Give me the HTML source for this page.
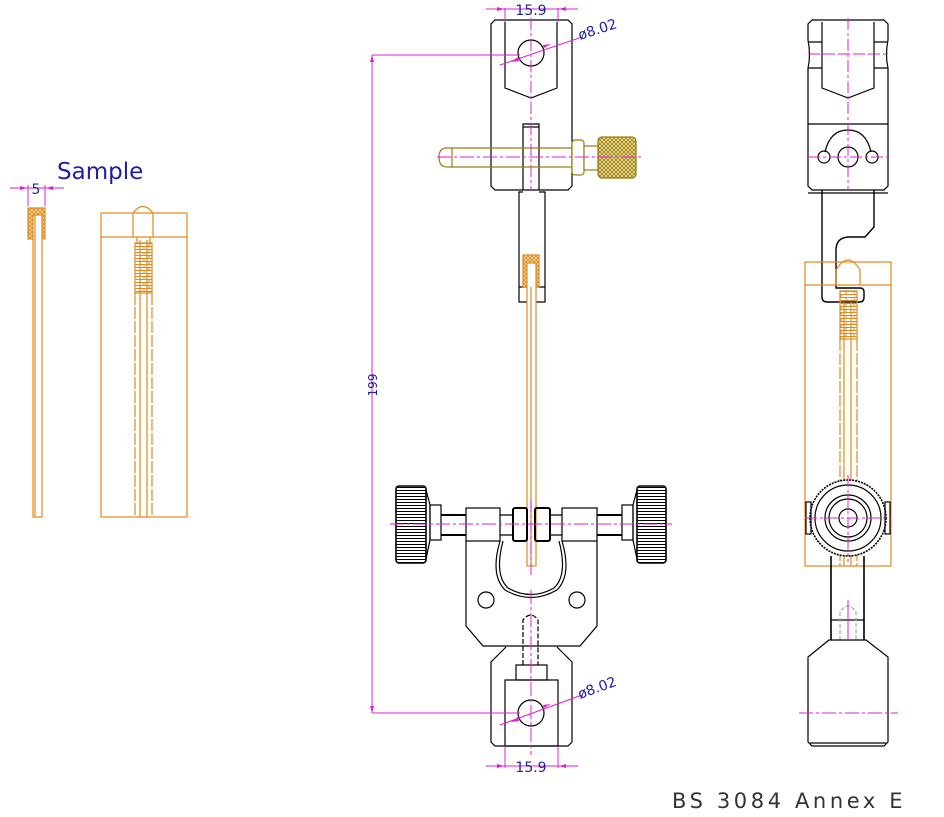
<!DOCTYPE html>
<html><head><meta charset="utf-8"><style>
html,body{margin:0;padding:0;background:#fff;width:944px;height:817px;overflow:hidden}
svg{display:block}
text{font-family:"DejaVu Sans","Liberation Sans",sans-serif}
</style></head><body>
<svg width="944" height="817" viewBox="0 0 944 817" xmlns="http://www.w3.org/2000/svg">
<defs>
<pattern id="hx" width="4" height="4" patternUnits="userSpaceOnUse">
<rect width="4" height="4" fill="#f3d9a8"/><path d="M0 0L4 4M4 0L0 4" stroke="#d98a20" stroke-width="0.8"/>
</pattern>
<pattern id="hg" width="4" height="4" patternUnits="userSpaceOnUse">
<rect width="4" height="4" fill="#efe2a0"/><path d="M0 0L4 4M4 0L0 4" stroke="#9a7d10" stroke-width="0.8"/>
</pattern>
<pattern id="brick" width="17" height="6" patternUnits="userSpaceOnUse">
<path d="M0 0.5H17M0 3.5H17M8 0.5V3.5M4 3.5V6.5M13 3.5V6.5" stroke="#e08a20" stroke-width="1" fill="none"/>
</pattern>
<pattern id="knurl" width="30" height="3" patternUnits="userSpaceOnUse">
<path d="M0 1.5H30" stroke="#000" stroke-width="1"/>
</pattern>
</defs>

<g fill="none" stroke-width="1.2">
<!-- SAMPLE left -->
<text x="57" y="179" font-size="23" fill="#2020a0" stroke="none" font-family="Liberation Sans, sans-serif">Sample</text>
<g stroke="#e020d0" stroke-width="1">
<line x1="10" y1="188" x2="64" y2="188"/><line x1="28" y1="185" x2="28" y2="206"/><line x1="45" y1="185" x2="45" y2="206"/>
</g>
<text x="36" y="194" font-size="14" fill="#2020a0" text-anchor="middle" stroke="none">5</text>
<polygon points="20,186 27,188 20,190" fill="#e020d0"/><polygon points="53,186 46,188 53,190" fill="#e020d0"/>
<g stroke="#e08a20">
<rect x="28" y="208" width="17" height="31" fill="url(#hx)"/>
<rect x="33" y="215" width="9" height="302" fill="#fff"/>
<line x1="35" y1="215" x2="35" y2="517"/>
<rect x="101" y="213" width="86" height="304"/>
<line x1="101" y1="237" x2="133" y2="237"/><line x1="153" y1="237" x2="187" y2="237"/>
<path d="M133 213 V237 H153 V213 Q143 200 133 213"/>
<rect x="135" y="243" width="17" height="50" fill="url(#brick)"/>
<line x1="135" y1="293" x2="135" y2="517" stroke-dasharray="12 2"/><line x1="140" y1="240" x2="140" y2="517"/>
<line x1="147" y1="240" x2="147" y2="517"/><line x1="152" y1="293" x2="152" y2="517" stroke-dasharray="12 2"/>
<line x1="137" y1="237" x2="137" y2="243"/><line x1="150" y1="237" x2="150" y2="243"/>
</g>

<!-- MIDDLE top block -->
<g stroke="#000">
<path d="M495 20 H568 L572 24 V186 L568 190 H495 L491 186 V24 Z"/>
<path d="M505 22 V88 L531 98 L557 88 V22"/>
<circle cx="531" cy="53" r="13"/>
<path d="M523 190 V124 H539 V190"/><line x1="523" y1="127" x2="539" y2="127"/>
<path d="M523 192 H519 V302 H545 V192 H539"/><line x1="519" y1="287" x2="545" y2="287"/>
</g>
<g stroke="#e08a20">
<rect x="523" y="255" width="16" height="32" fill="url(#hx)"/>
<rect x="527" y="263" width="9" height="303" fill="#fff"/>
<line x1="531" y1="287" x2="531" y2="566"/>
</g>
<g stroke="#9a7d10">
<path d="M573 148 H447 Q439 148 439 157 Q439 167 447 167 H573"/>
<line x1="452" y1="148" x2="452" y2="167"/>
<rect x="572" y="140" width="12" height="35" rx="3" fill="#fff"/>
<rect x="584" y="146" width="14" height="24" fill="#fff"/>
<rect x="598" y="137" width="38" height="41" rx="4" fill="url(#hg)"/>
</g>
<!-- bottom clamp -->
<g stroke="#000">
<rect x="396" y="486" width="30" height="77" rx="3" fill="url(#knurl)" stroke-width="1.6"/>
<path d="M426 490 L430 505 V540 L426 559"/>
<rect x="430" y="505" width="11" height="35"/>
<path d="M441 515 H466 M441 535 H466" stroke-width="2"/>
<rect x="466" y="508" width="34" height="33"/>
<path d="M500 515 H513 M500 535 H513"/>
<rect x="513" y="508" width="14" height="33" rx="2" stroke-width="2"/>
<rect x="535" y="508" width="15" height="33" rx="2" stroke-width="2"/>
<path d="M550 515 H562 M550 535 H562"/>
<rect x="562" y="508" width="35" height="33"/>
<path d="M597 515 H622 M597 535 H622" stroke-width="2"/>
<rect x="622" y="505" width="11" height="35"/>
<path d="M637 490 L633 505 V540 L637 559"/>
<rect x="637" y="486" width="29" height="77" rx="3" fill="url(#knurl)" stroke-width="1.6"/>
<path d="M466 541 V626 L483 646 H580 L597 626 V541"/>
<path d="M500 541 Q490 575 505 590 Q531 605 557 590 Q572 575 562 541"/>
<path d="M503 541 Q494 575 508 588 Q531 601 554 588 Q568 575 559 541"/>
<circle cx="486" cy="600" r="8"/><circle cx="577" cy="600" r="8"/>
<path d="M523 665 V620 Q531 610 538 620 V665" stroke-dasharray="5 2"/>
<path d="M506 647 L491 662 V742 L495 746 H568 L572 742 V662 L557 647"/>
<rect x="505" y="680" width="53" height="66"/>
<rect x="516" y="665" width="31" height="15"/>
<circle cx="531" cy="713" r="13"/>
</g>

<!-- RIGHT view -->
<g stroke="#000">
<path d="M812 20 H884 L888 24 V40 Q885 55 888 68 V186 L884 190 H812 L808 186 V68 Q811 55 808 40 V24 Z"/>
<path d="M808 42 H822 M874 42 H888 M808 68 H822 M874 68 H888"/>
<path d="M822 22 V88 L848 98 L874 88 V22"/>
<line x1="808" y1="124" x2="888" y2="124"/>
<path d="M825 152 Q830 130 848 130 Q866 130 871 152"/>
<circle cx="824" cy="157" r="6"/><circle cx="848" cy="157" r="10"/><circle cx="872" cy="157" r="6"/>
<line x1="808" y1="193" x2="888" y2="193"/>
<path d="M822 190 V297 Q822 302 827 302 H860 Q864 302 864 297 V292 Q864 288 860 288 H836 V250 Q836 238 848 237 H865 L874 227 V190" stroke-width="1.4"/>
</g>
<g stroke="#e08a20">
<rect x="805" y="262" width="86" height="304"/>
<line x1="805" y1="285" x2="891" y2="285"/>
<path d="M836 285 V270 Q848 250 860 270 V285"/>
<rect x="840" y="291" width="17" height="48" fill="url(#brick)"/>
<line x1="840" y1="339" x2="840" y2="566" stroke-dasharray="12 2"/><line x1="844" y1="302" x2="844" y2="566"/>
<line x1="851" y1="302" x2="851" y2="566"/><line x1="857" y1="339" x2="857" y2="566" stroke-dasharray="12 2"/>
</g>
<g stroke="#000">
<circle cx="848" cy="518" r="38" fill="#fff" stroke-dasharray="2 1" stroke-width="1.6"/>
<circle cx="848" cy="518" r="33"/><circle cx="848" cy="518" r="23"/><circle cx="848" cy="518" r="19"/>
<circle cx="848" cy="518" r="9"/>
<rect x="806" y="502" width="5" height="32"/><rect x="885" y="502" width="5" height="32"/>
<path d="M831 556 V640 M864 556 V640" stroke-width="1.6"/>
<line x1="831" y1="620" x2="864" y2="620"/>
<path d="M840 640 V612 Q848 600 856 612 V640" stroke="#aaa" stroke-dasharray="4 2"/>
<path d="M829 640 L808 657 V742 L812 746 H884 L888 742 V657 L866 640 Z"/>
<line x1="810" y1="743" x2="886" y2="743"/>
</g>
</g>

<g stroke="#e020d0" stroke-width="1" fill="none">
<line x1="531" y1="18" x2="531" y2="190" stroke-dasharray="12 3 3 3"/>
<line x1="437" y1="157" x2="642" y2="157" stroke-dasharray="14 3 3 3"/>
<line x1="531" y1="500" x2="531" y2="575" stroke-dasharray="12 3 3 3"/>
<line x1="390" y1="524" x2="672" y2="524" stroke-dasharray="14 3 3 3"/>
<line x1="531" y1="590" x2="531" y2="755" stroke-dasharray="14 3 3 3"/>
<line x1="848" y1="18" x2="848" y2="190" stroke-dasharray="12 3 3 3"/>
<line x1="808" y1="54" x2="888" y2="54" stroke-dasharray="12 3"/>
<line x1="808" y1="157" x2="890" y2="157" stroke-dasharray="12 3 3 3"/>
<line x1="848" y1="475" x2="848" y2="562" stroke-dasharray="12 3 3 3"/>
<line x1="805" y1="518" x2="891" y2="518" stroke-dasharray="12 3 3 3"/>
<line x1="848" y1="600" x2="848" y2="640"/>
<line x1="799" y1="713" x2="898" y2="713" stroke-dasharray="14 3 3 3"/>
<line x1="372" y1="55" x2="372" y2="713"/>
<line x1="372" y1="55" x2="520" y2="55"/><line x1="372" y1="713" x2="520" y2="713"/>
<line x1="486" y1="9" x2="578" y2="9"/><line x1="505" y1="8" x2="505" y2="22"/><line x1="558" y1="8" x2="558" y2="22"/>
<line x1="486" y1="766" x2="578" y2="766"/><line x1="505" y1="746" x2="505" y2="768"/><line x1="558" y1="746" x2="558" y2="768"/>
<line x1="500" y1="65" x2="582" y2="37"/>
<line x1="500" y1="725" x2="582" y2="695"/>
</g>
<g fill="#e020d0">
<polygon points="370,62 372,55 374,62"/><polygon points="370,706 372,713 374,706"/>
<polygon points="497,7 504,9 497,11"/><polygon points="566,7 559,9 566,11"/>
<polygon points="497,764 504,766 497,768"/><polygon points="566,764 559,766 566,768"/>
<polygon points="518,57 511,62 519,61"/><polygon points="544,48 551,44 543,45"/>
<polygon points="518,717 511,722 519,721"/><polygon points="544,708 551,704 543,705"/>
</g>
<g fill="#2020a0" font-size="14">
<text x="531" y="15" text-anchor="middle">15.9</text>
<text x="531" y="772" text-anchor="middle">15.9</text>
<text x="580" y="40" transform="rotate(-18 580 40)">ø8.02</text>
<text x="580" y="699" transform="rotate(-20 580 699)">ø8.02</text>
<text x="377" y="385" text-anchor="middle" transform="rotate(-90 377 385)" font-size="12">199</text>
</g>
<text x="672" y="808" font-size="21" fill="#333" letter-spacing="3.6">BS 3084 Annex E</text>
</svg>
</body></html>
